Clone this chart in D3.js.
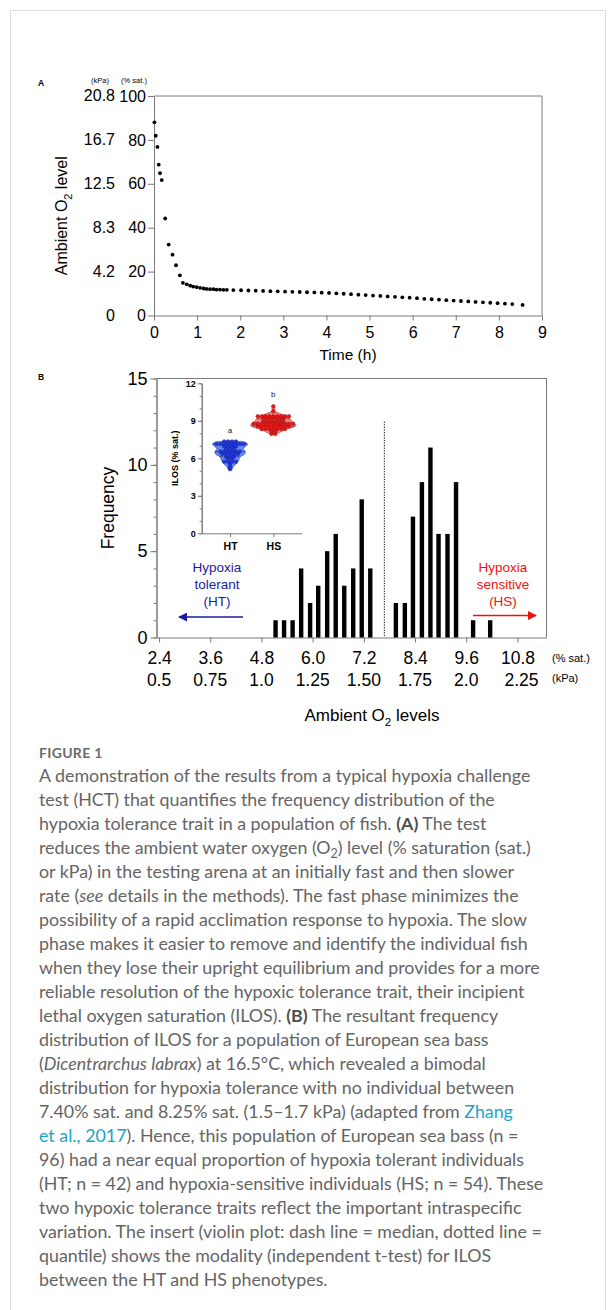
<!DOCTYPE html>
<html>
<head>
<meta charset="utf-8">
<title>Figure 1 - hypoxia challenge test</title>
<script src="https://cdn.jsdelivr.net/npm/d3@7"></script>
<style>
  body { margin: 0; background: #fff; }
  svg { display: block; }
  .chart text { font-family: "Liberation Sans", Arial, sans-serif; }
  .caption text { font-family: Lato, "Open Sans", sans-serif; }
</style>
</head>
<body>
<svg width="616" height="1310"></svg>
<script>
// panel A: ambient O2 (% sat.) against time (h)
const timeA = [0.01, 0.04, 0.08, 0.11, 0.14, 0.18, 0.26, 0.34, 0.43, 0.51, 0.60, 0.67,
  0.76, 0.84, 0.91, 0.99, 1.07, 1.15, 1.22, 1.30, 1.38, 1.45, 1.53, 1.61, 1.69,
  1.84, 2.02, 2.19, 2.36, 2.53, 2.70, 2.87, 3.04, 3.21, 3.38, 3.55, 3.72, 3.89, 4.06,
  4.23, 4.40, 4.57, 4.74, 4.91, 5.08, 5.25, 5.42, 5.59, 5.76, 5.93, 6.10, 6.27, 6.44,
  6.61, 6.78, 6.95, 7.12, 7.29, 7.46, 7.63, 7.80, 7.97, 8.14, 8.31, 8.55]
const o2A = [88.0, 81.9, 76.8, 68.7, 64.8, 61.7, 44.2, 32.3, 27.7, 22.9, 18.3, 14.9,
  14.2, 13.6, 13.2, 12.9, 12.6, 12.3, 12.1, 12.0, 12.0, 11.8, 11.8, 11.7, 11.7,
  11.6, 11.5, 11.4, 11.3, 11.2, 11.1, 11.0, 10.9, 10.8, 10.7, 10.6, 10.5, 10.4, 10.3,
  10.1, 9.9, 9.7, 9.5, 9.3, 9.1, 8.9, 8.7, 8.5, 8.3, 8.1, 7.9, 7.6, 7.4,
  7.2, 7.0, 6.8, 6.6, 6.4, 6.2, 6.0, 5.8, 5.6, 5.4, 5.2, 4.8]
const o2TicksSat = [0, 20, 40, 60, 80, 100]
const o2TicksKpa = ['0', '4.2', '8.3', '12.5', '16.7', '20.8']
const timeTicks = [0, 1, 2, 3, 4, 5, 6, 7, 8, 9]

// panel B: frequency of ILOS (% sat.)
const ilosBins = [5.13, 5.33, 5.53, 5.73, 5.94, 6.13, 6.34, 6.54, 6.74, 6.95, 7.15, 7.35,
  7.95, 8.16, 8.35, 8.56, 8.76, 8.95, 9.16, 9.36, 9.76, 10.16]
const ilosCounts = [1, 1, 1, 4, 2, 3, 5, 6, 3, 4, 8, 4,
  2, 2, 7, 9, 11, 6, 6, 9, 1, 1]
const satTicks = [2.4, 3.6, 4.8, 6.0, 7.2, 8.4, 9.6, 10.8]
const kpaLabels = ['0.5', '0.75', '1.0', '1.25', '1.50', '1.75', '2.0', '2.25']
const freqTicks = [0, 5, 10, 15]
const gapLine = 7.68

// inset violin
const groups = ['HT', 'HS']
const groupSplit = 7.6
const groupLetters = ['a', 'b']
const insetTicks = [0, 3, 6, 9, 12]

const AXIS = '#7a7a7a'
const svg = d3.select('svg')
svg.append('rect').attr('width', 616).attr('height', 1310).attr('fill', '#fff')
svg.append('rect').attr('x', 10.5).attr('y', 10.5).attr('width', 595).attr('height', 1340)
  .attr('fill', 'none').attr('stroke', '#dedede')

const chart = svg.append('g').attr('class', 'chart')

function styleAxis (g, size, weight) {
  g.attr('font-family', null).attr('font-size', null)
  g.select('.domain').attr('stroke', AXIS)
  g.selectAll('.tick line').attr('stroke', AXIS)
  g.selectAll('.tick text').attr('fill', '#000').style('font-size', size + 'px')
    .style('font-weight', weight || 'normal')
}

function withSub (sel, before, sub, after, size) {
  sel.append('tspan').text(before)
  sel.append('tspan').text(sub).attr('dy', size * 0.3).style('font-size', (size * 0.68) + 'px')
  sel.append('tspan').text(after).attr('dy', -size * 0.3)
}

// ---------- panel A ----------
const xA = d3.scaleLinear().domain([0, 9]).range([154, 542])
const yA = d3.scaleLinear().domain([0, 100]).range([315.5, 96])

chart.append('text').attr('x', 38).attr('y', 86).text('A')
  .style('font-size', '8.5px').style('font-weight', 'bold')
chart.append('text').attr('x', 100).attr('y', 83).attr('text-anchor', 'middle')
  .text('(kPa)').style('font-size', '7.5px')
chart.append('text').attr('x', 134).attr('y', 83).attr('text-anchor', 'middle')
  .text('(% sat.)').style('font-size', '7.5px')

chart.append('g').attr('transform', 'translate(0,315.5)')
  .call(d3.axisBottom(xA).tickValues(timeTicks).tickSize(5).tickSizeOuter(0).tickPadding(6))
  .call(styleAxis, 16)
chart.append('g').attr('transform', 'translate(154,0)')
  .call(d3.axisLeft(yA).tickValues(o2TicksSat).tickSize(6).tickSizeOuter(0).tickPadding(2))
  .call(styleAxis, 16)

chart.selectAll('.kpa-a').data(o2TicksSat).join('text')
  .attr('class', 'kpa-a')
  .attr('x', 115).attr('y', d => yA(d)).attr('dy', '0.32em')
  .attr('text-anchor', 'end')
  .text((d, i) => o2TicksKpa[i])
  .style('font-size', '16px')

chart.append('path')
  .attr('d', `M${xA(0)},${yA(100)}H${xA(9)}V${yA(0)}`)
  .attr('fill', 'none').attr('stroke', AXIS)

chart.selectAll('.pt-a').data(d3.zip(timeA, o2A)).join('circle')
  .attr('class', 'pt-a')
  .attr('cx', d => xA(d[0]))
  .attr('cy', d => yA(d[1]))
  .attr('r', 1.9)
  .attr('fill', '#000')

chart.append('text').attr('x', xA(4.5)).attr('y', 360).attr('text-anchor', 'middle')
  .text('Time (h)').style('font-size', '15.5px')

chart.append('text')
  .attr('transform', `translate(67,${(yA(0) + yA(100)) / 2 + 10}) rotate(-90)`)
  .attr('text-anchor', 'middle')
  .style('font-size', '16px')
  .call(withSub, 'Ambient O', '2', ' level', 16)

// ---------- panel B ----------
const xB = d3.scaleLinear().domain([2.34, 11.48]).range([156.5, 546.5])
const yB = d3.scaleLinear().domain([0, 15]).range([637.5, 378.5])

chart.append('text').attr('x', 38).attr('y', 380).text('B')
  .style('font-size', '8.5px').style('font-weight', 'bold')

chart.append('g').attr('transform', 'translate(0,637.5)')
  .call(d3.axisBottom(xB).tickValues(satTicks).tickFormat(d3.format('.1f'))
    .tickSize(5).tickSizeOuter(0).tickPadding(9))
  .call(styleAxis, 17.5)
chart.append('g').attr('transform', 'translate(156.5,0)')
  .call(d3.axisLeft(yB).tickValues(d3.range(0, 16)).tickSize(3).tickSizeOuter(0).tickFormat(''))
  .call(styleAxis, 16)
chart.append('g').attr('transform', 'translate(156.5,0)')
  .call(d3.axisLeft(yB).tickValues(freqTicks).tickSize(6).tickSizeOuter(0).tickPadding(3))
  .call(styleAxis, 18)

chart.append('path')
  .attr('d', `M${xB.range()[0]},${yB(15)}H${xB.range()[1]}V${yB(0)}`)
  .attr('fill', 'none').attr('stroke', AXIS)

chart.selectAll('.kpa-b').data(satTicks).join('text')
  .attr('class', 'kpa-b')
  .attr('x', (d, i) => xB(d) + (i === satTicks.length - 1 ? 4 : 0))
  .attr('y', 685.5)
  .attr('text-anchor', 'middle')
  .text((d, i) => kpaLabels[i])
  .style('font-size', '17.5px')

chart.append('text').attr('x', 552).attr('y', 662).text('(% sat.)').style('font-size', '11px')
chart.append('text').attr('x', 552).attr('y', 682).text('(kPa)').style('font-size', '11px')

chart.selectAll('.bar').data(d3.zip(ilosBins, ilosCounts)).join('rect')
  .attr('class', 'bar')
  .attr('x', d => xB(d[0]) - 2.2)
  .attr('width', 4.4)
  .attr('y', d => yB(d[1]))
  .attr('height', d => yB(0) - yB(d[1]))
  .attr('fill', '#000')

chart.append('line')
  .attr('x1', xB(gapLine)).attr('x2', xB(gapLine))
  .attr('y1', yB(12.5)).attr('y2', yB(0))
  .attr('stroke', '#000').attr('stroke-width', 1).attr('stroke-dasharray', '1.2,1.4')

chart.append('text')
  .attr('transform', `translate(114,${(yB(0) + yB(15)) / 2}) rotate(-90)`)
  .attr('text-anchor', 'middle')
  .text('Frequency').style('font-size', '17.5px')

chart.append('text').attr('x', 372).attr('y', 721).attr('text-anchor', 'middle')
  .style('font-size', '17px')
  .call(withSub, 'Ambient O', '2', ' levels', 17)

// group annotations and arrows
const defs = svg.append('defs')
function arrowHead (id, color) {
  defs.append('marker').attr('id', id)
    .attr('viewBox', '0 0 10 10').attr('refX', 9).attr('refY', 5)
    .attr('markerWidth', 9).attr('markerHeight', 9).attr('markerUnits', 'userSpaceOnUse')
    .attr('orient', 'auto')
    .append('path').attr('d', 'M0,0L10,5L0,10Z').attr('fill', color)
}
arrowHead('head-ht', '#1b1b9e')
arrowHead('head-hs', '#ee1111')

const notes = [
  { lines: ['Hypoxia', 'tolerant', '(HT)'], x: 217, color: '#1b1b9e', a1: 243, a2: 179, ay: 617 },
  { lines: ['Hypoxia', 'sensitive', '(HS)'], x: 503, color: '#ee1111', a1: 473, a2: 536, ay: 615.5 }
]
notes.forEach(n => {
  chart.selectAll(null).data(n.lines).join('text')
    .attr('x', n.x).attr('y', (d, i) => 572 + i * 16.8)
    .attr('text-anchor', 'middle')
    .attr('fill', n.color)
    .text(d => d)
    .style('font-size', '13.5px')
  chart.append('line')
    .attr('x1', n.a1).attr('x2', n.a2).attr('y1', n.ay).attr('y2', n.ay)
    .attr('stroke', n.color).attr('stroke-width', 1.3)
    .attr('marker-end', n.a2 < n.a1 ? 'url(#head-ht)' : 'url(#head-hs)')
})

// ---------- inset ----------
const yI = d3.scaleLinear().domain([0, 12]).range([533.3, 383.3])
const xI = d3.scalePoint().domain(groups).range([201.7, 301.7]).padding(0.655)

const inset = chart.append('g')
inset.append('g').attr('transform', 'translate(201.7,0)')
  .call(d3.axisLeft(yI).tickValues(d3.range(0, 13)).tickSize(2).tickSizeOuter(0).tickFormat(''))
  .call(styleAxis, 9)
inset.append('g').attr('transform', 'translate(201.7,0)')
  .call(d3.axisLeft(yI).tickValues(insetTicks).tickSize(4).tickSizeOuter(0).tickPadding(2))
  .call(styleAxis, 9, 'bold')
inset.append('g').attr('transform', 'translate(0,533.3)')
  .call(d3.axisBottom(xI).tickSize(4).tickSizeOuter(0).tickPadding(5))
  .call(styleAxis, 10.5, 'bold')

inset.append('text')
  .attr('transform', `translate(178,${yI(6)}) rotate(-90)`)
  .attr('text-anchor', 'middle')
  .text('ILOS (% sat.)')
  .style('font-size', '9px').style('font-weight', 'bold')

const groupValues = groups.map((g, gi) => {
  const vals = []
  ilosBins.forEach((b, i) => {
    if ((gi === 0) === (b < groupSplit)) d3.range(ilosCounts[i]).forEach(() => vals.push(b))
  })
  return vals.sort(d3.ascending)
})

const bw = 0.38
const epan = u => Math.abs(u) <= 1 ? 0.75 * (1 - u * u) : 0
const density = (vals, y) => d3.mean(vals, v => epan((y - v) / bw)) / bw
const dens = groupValues.map(vals => {
  const lo = d3.min(vals); const hi = d3.max(vals)
  return d3.range(lo, hi + 0.001, (hi - lo) / 40).map(y => [y, density(vals, y)])
})
const wI = d3.scaleLinear()
  .domain([0, d3.max(dens, d => d3.max(d, e => e[1]))])
  .range([0, 23])

const violinStyle = [
  { fill: '#6585ee', stroke: '#2c44c6', dot: '#2038e6', dotStroke: '#0f1f8f' },
  { fill: '#f48080', stroke: '#c62424', dot: '#ec1a1a', dotStroke: '#8e0b0b' }
]

groups.forEach((g, gi) => {
  const cx = xI(g)
  const st = violinStyle[gi]
  const vals = groupValues[gi]
  inset.append('path').datum(dens[gi])
    .attr('d', d3.area()
      .x0(d => cx - wI(d[1])).x1(d => cx + wI(d[1]))
      .y(d => yI(d[0]))
      .curve(d3.curveBasis))
    .attr('fill', st.fill).attr('stroke', st.stroke).attr('stroke-width', 0.6)

  // median (dashed) and quartiles (dotted)
  ;[[0.25, '1,1.2'], [0.5, '2.5,1.5'], [0.75, '1,1.2']].forEach(([p, dash]) => {
    const q = d3.quantile(vals, p)
    const hw = wI(density(vals, q))
    inset.append('line')
      .attr('x1', cx - hw).attr('x2', cx + hw)
      .attr('y1', yI(q)).attr('y2', yI(q))
      .attr('stroke', '#111').attr('stroke-width', 0.7).attr('stroke-dasharray', dash)
  })

  // dots laid out row by row, one row per ILOS bin
  const rows = d3.groups(vals, v => v)
  const dots = []
  rows.forEach(([v, arr]) => {
    arr.forEach((_, k) => dots.push({ v, off: (k - (arr.length - 1) / 2) * 3.9 }))
  })
  inset.selectAll(null).data(dots).join('circle')
    .attr('cx', d => cx + d.off)
    .attr('cy', d => yI(d.v))
    .attr('r', 1.8)
    .attr('fill', st.dot).attr('stroke', st.dotStroke).attr('stroke-width', 0.5)

  inset.append('text')
    .attr('x', cx).attr('y', yI(d3.max(vals) + 0.9)).attr('dy', '0.3em')
    .attr('text-anchor', 'middle')
    .text(groupLetters[gi])
    .style('font-size', '8px').attr('fill', '#222')
})

// ---------- caption ----------
const captionTitle = 'FIGURE 1'
const captionLines = [
  [['A demonstration of the results from a typical hypoxia challenge']],
  [['test (HCT) that quantifies the frequency distribution of the']],
  [['hypoxia tolerance trait in a population of fish. '], ['(A)', 'b'], [' The test']],
  [['reduces the ambient water oxygen (O'], ['2', 'sub'], [') level (% saturation (sat.)']],
  [['or kPa) in the testing arena at an initially fast and then slower']],
  [['rate ('], ['see', 'i'], [' details in the methods). The fast phase minimizes the']],
  [['possibility of a rapid acclimation response to hypoxia. The slow']],
  [['phase makes it easier to remove and identify the individual fish']],
  [['when they lose their upright equilibrium and provides for a more']],
  [['reliable resolution of the hypoxic tolerance trait, their incipient']],
  [['lethal oxygen saturation (ILOS). '], ['(B)', 'b'], [' The resultant frequency']],
  [['distribution of ILOS for a population of European sea bass']],
  [['('], ['Dicentrarchus labrax', 'i'], [') at 16.5°C, which revealed a bimodal']],
  [['distribution for hypoxia tolerance with no individual between']],
  [['7.40% sat. and 8.25% sat. (1.5–1.7 kPa) (adapted from '], ['Zhang', 'link']],
  [['et al., 2017', 'link'], ['). Hence, this population of European sea bass (n =']],
  [['96) had a near equal proportion of hypoxia tolerant individuals']],
  [['(HT; n = 42) and hypoxia-sensitive individuals (HS; n = 54). These']],
  [['two hypoxic tolerance traits reflect the important intraspecific']],
  [['variation. The insert (violin plot: dash line = median, dotted line =']],
  [['quantile) shows the modality (independent t-test) for ILOS']],
  [['between the HT and HS phenotypes.']]
]

const cap = svg.append('g').attr('class', 'caption')
cap.append('text').attr('x', 39).attr('y', 758)
  .text(captionTitle)
  .attr('fill', '#6a6a6a')
  .style('font-size', '14px').style('font-weight', 'bold').style('letter-spacing', '0.3px')

const capText = cap.selectAll('.cap-line').data(captionLines).join('text')
  .attr('class', 'cap-line')
  .attr('x', 39)
  .attr('y', (d, i) => 782 + i * 24)
  .attr('fill', '#646464')
  .style('font-size', '16px')

capText.each(function (segs) {
  const t = d3.select(this)
  let shift = 0
  segs.forEach(([s, kind]) => {
    const span = t.append('tspan').text(s)
    if (shift) { span.attr('dy', -shift); shift = 0 }
    if (kind === 'b') span.style('font-weight', 'bold').attr('fill', '#4f4f4f')
    if (kind === 'i') span.style('font-style', 'italic')
    if (kind === 'link') span.attr('fill', '#17a6c9')
    if (kind === 'sub') {
      span.attr('dy', 4).style('font-size', '0.7em')
      shift = 4
    }
  })
})

// fit the widest line to the column width of the original
const refLine = capText.filter((d, i) => i === 8).node()
const capSize = 16 * 501 / refLine.getComputedTextLength()
capText.style('font-size', capSize + 'px')
</script>
</body>
</html>
